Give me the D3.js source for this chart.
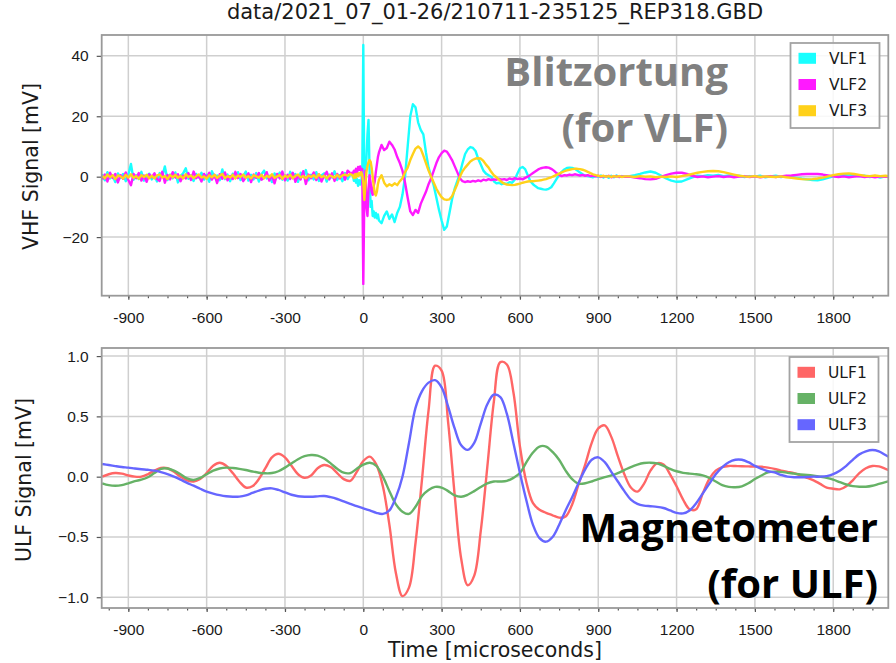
<!DOCTYPE html>
<html>
<head>
<meta charset="utf-8">
<script src="https://cdnjs.cloudflare.com/ajax/libs/d3/7.8.5/d3.min.js"></script>
<style>
	body { margin: 0; background: #fff; }
	svg { display: block; font-family: "DejaVu Sans", sans-serif; }
	.axis text { font-size: 15.5px; fill: #1a1a1a; }
	.axis path { display: none; }
	.axis line { stroke: #555; stroke-width: 1.2; }
	.grid line { stroke: #cfcfcf; stroke-width: 1.5; }
	.frame { fill: none; stroke: #999; stroke-width: 1.8; }
	.label { font-size: 20.5px; fill: #1a1a1a; }
	.title { font-size: 21px; fill: #1a1a1a; }
	.legend text { font-size: 15.5px; fill: #1a1a1a; }
	.note { font-family: "Open Sans", sans-serif; font-weight: 700; font-size: 40px; }
</style>
</head>
<body>
<div id="chart"></div>
<script>

// ---- data ----

const title = "data/2021_07_01-26/210711-235125_REP318.GBD";
const xLabel = "Time [microseconds]";
const xDomain = [-1002, 2011];
const majorTicks = [-900, -600, -300, 0, 300, 600, 900, 1200, 1500, 1800];
const minorTicks = d3.range(-975, 2011, 75);

const vlfTicks = [-20, 0, 20, 40];
const ulfTicks = [-1.0, -0.5, 0.0, 0.5, 1.0];

// VLF sampling: coarse noise before the stroke, fine steps around t=0
const vlfTime = [].concat(
	d3.range(-1000, -40, 10),
	d3.range(-40, 61, 4),
	d3.range(70, 1001, 10),
	d3.range(1020, 2021, 20)
);

const vlf1 = [
	// -1000 .. -50
	0.8, -1.2, 1.5, -0.6, 0.3, -1.8, 1.1, -0.4, 0.9, -1.5,
	0.6, 4.2, -1.0, 0.5, -0.8, 1.6, -1.3, 0.2, 1.0, -0.9,
	0.4, -1.6, 1.2, 0.1, 3.4, -1.1, 0.7, -0.5, 1.4, -1.9,
	0.3, 1.1, 2.8, -0.7, 0.5, -1.4, 0.9, -0.3, 1.3, -1.0,
	0.6, -1.7, 1.8, -0.2, 0.4, -1.2, 2.4, -0.8, 0.7, -1.5,
	1.0, -0.4, 1.5, -1.1, 0.2, 1.7, -1.3, 0.6, -0.9, 1.2,
	-1.6, 0.8, 2.0, -0.6, 0.3, -1.8, 1.1, -0.2, 1.4, -1.0,
	0.5, -1.3, 1.6, -0.5, 0.9, -1.7, 1.3, -0.1, 2.2, -1.2,
	0.6, -0.9, 1.5, -1.4, 0.4, 1.1, -1.6, 0.7, -0.3, 1.8,
	-1.1, 0.5, -1.5, 1.2, -0.8, 0.9,
	// -40 .. 60
	0.6, -1.4, 1.2, -2.0, -0.8, -3.0, -1.2, -2.6, -1.5, 0.8,
	43.6, -4.5, 2.0, 6.0, 14.0, 18.8, 2.0, -10.0, -8.0, -13.0,
	-11.5, -13.5, -12.0, -13.8, -12.5, -14.5,
	// 70 .. 1000
	-15.4, -13.0, -11.5, -14.0, -12.5, -15.0, -12.0, -10.0, -6.0, 0.0,
	10.0, 20.0, 24.0, 23.0, 18.0, 15.5, 14.0, 8.0, 3.0, 0.0,
	-3.0, -7.0, -11.0, -14.5, -17.6, -16.5, -12.0, -7.5, -4.0, -1.5,
	1.0, 4.5, 7.5, 9.0, 9.8, 9.5, 8.5, 6.0, 4.0, 2.0,
	1.0, 0.5, 0.0, -1.5, -2.2, -2.0, -2.5, -2.2, -2.4, -1.8,
	-2.0, -1.0, 1.0, 2.8, 3.2, 2.5, 0.5, -1.5, -2.5, -3.2,
	-3.8, -4.0, -4.2, -4.3, -4.0, -3.5, -2.2, -0.8, 0.5, 1.6,
	2.4, 2.9, 3.0, 2.9, 2.6, 2.0, 1.4, 0.8, 0.4, 0.2,
	0.0, -0.2, 0.3, -0.1, 0.4, -0.3, 0.2, -0.4, 0.3, -0.2,
	0.4, -0.1, 0.2, 0.0,
	// 1020 .. 2020
	0.2, 0.5, 0.9, 1.4, 1.7, 1.3, 0.4, -0.6, -1.3, -1.7,
	-1.6, -0.9, -0.2, 0.3, 0.2, 0.5, 0.3, 0.6, 0.2, 0.4,
	0.1, 0.3, -0.1, 0.2, 0.0, 0.3, -0.2, 0.1, 0.3, -0.1,
	0.2, -0.2, -0.4, -0.7, -0.9, -1.1, -1.2, -0.9, -0.4, 0.1,
	0.3, 0.5, 0.6, 0.4, 0.2, 0.3, -0.1, 0.2, -0.3, 0.1,
	-0.2
];

const vlf2 = [
	-0.9, 0.7, -1.6, 1.3, -0.4, 0.9, -1.9, 0.5, -0.7, 1.4,
	-1.1, -2.8, 0.9, -0.5, 1.2, -1.3, 0.4, -1.7, 0.8, -0.2,
	1.1, -0.8, -1.4, 1.6, -2.0, 0.6, -0.9, 1.5, -0.3, 0.8,
	-1.5, 0.4, -0.6, 1.2, -1.1, 1.7, -0.5, 0.3, -1.6, 0.9,
	-0.4, 1.3, -1.0, 0.6, -2.1, 0.8, -0.7, 1.4, -1.2, 0.2,
	-0.8, 1.6, -0.5, 0.9, -1.5, -0.2, 1.1, -1.8, 0.7, -0.4,
	1.2, -1.0, -0.3, 1.5, -1.3, 0.5, -2.2, 0.9, -0.6, 1.7,
	-1.2, 0.6, -0.8, 1.3, -1.7, 0.4, -0.9, 1.8, -2.4, 0.7,
	-0.5, 1.4, -1.1, 0.8, -1.6, 0.3, 1.6, -0.9, 1.1, -1.4,
	0.9, -0.6, 1.5, -1.0, 2.0, 1.2,
	1.2, 2.0, 0.8, 2.6, 1.5, 3.2, 2.2, 3.4, 1.8, 2.5,
	-35.5, -6.0, 2.0, -10.0, -13.0, -4.0, 0.5, -2.0, -5.0, -6.0,
	-3.0, -1.5, 1.5, 4.0, 6.5, 8.0,
	10.5, 8.8, 9.5, 11.6, 10.5, 9.0, 6.5, 4.5, 2.0, -2.0,
	-7.0, -11.5, -12.7, -11.0, -12.0, -9.0, -7.0, -5.0, -2.5, -0.5,
	2.0, 4.5, 6.5, 7.8, 8.6, 8.3, 7.0, 5.5, 3.5, 1.5,
	-0.5, -1.5, -1.8, -1.5, -1.7, -1.4, -1.6, -1.2, -1.5, -1.0,
	-1.2, -0.8, -1.1, -0.9, -1.0, -0.7, -1.0, -0.8, -1.1, -0.6,
	-0.9, -0.5, -0.8, -0.6, -0.9, -0.4, 0.0, 0.6, 1.2, 1.8,
	2.4, 2.8, 3.0, 3.1, 3.0, 2.6, 2.0, 1.2, 0.6, 0.2,
	0.5, 0.4, 0.7, 0.5, 0.8, 0.6, 0.4, 0.6, 0.3, 0.5,
	0.2, 0.4, 0.1, 0.3, -0.1, 0.2, 0.0, 0.3, -0.2, 0.1,
	0.2, -0.1, 0.1, 0.0,
	0.0, -0.3, -0.5, -0.8, -0.9, -0.7, -0.1, 0.5, 1.0, 1.3,
	1.3, 0.9, 0.3, -0.1, 0.1, -0.2, 0.0, 0.2, -0.1, 0.1,
	-0.2, 0.0, 0.2, -0.1, 0.1, -0.2, 0.0, 0.2, -0.1, 0.1,
	0.3, 0.4, 0.6, 0.8, 0.9, 0.9, 0.9, 0.7, 0.4, 0.1,
	-0.1, 0.1, -0.2, 0.0, 0.2, -0.1, 0.1, -0.2, 0.1, 0.0,
	0.1
];

const vlf3 = [
	0.3, -0.5, 0.7, -0.2, 0.5, -0.8, 0.4, 0.1, -0.6, 0.6,
	-0.3, 0.8, -0.4, 0.2, -0.7, 0.5, -0.1, 0.6, -0.5, 0.3,
	-0.6, 0.4, 0.7, -0.3, 0.2, -0.8, 0.5, -0.2, 0.6, -0.4,
	0.3, -0.6, 0.8, -0.1, 0.4, -0.5, 0.2, 0.7, -0.3, 0.1,
	-0.7, 0.5, -0.2, 0.6, -0.4, 0.3, 0.9, -0.5, 0.2, -0.3,
	0.6, -0.6, 0.4, -0.1, 0.7, -0.4, 0.2, -0.6, 0.5, 0.1,
	-0.3, 0.6, -0.5, 0.3, -0.2, 0.8, -0.4, 0.1, 0.5, -0.7,
	0.4, -0.2, 0.6, -0.5, 0.3, 0.7, -0.3, 0.2, -0.6, 0.4,
	-0.1, 0.5, -0.4, 0.8, -0.2, 0.3, -0.6, 0.4, 0.1, -0.3,
	0.6, -0.2, 0.4, 0.7, 0.3, 0.9,
	0.4, -0.5, 0.8, -0.3, 1.0, 0.2, 1.2, 0.5, 1.5, 0.5,
	-2.0, -7.7, -3.0, 1.5, 3.5, 4.8, 5.5, 5.0, 3.0, 0.0,
	-3.0, -5.5, -6.2, -5.0, -2.5, -1.0,
	0.5, -2.0, -3.2, -2.5, -3.0, -2.2, -2.8, -1.5, -0.5, 1.5,
	3.0, 5.5, 7.5, 9.3, 10.0, 9.2, 7.0, 4.5, 2.0, 0.0,
	-2.0, -4.0, -5.5, -6.8, -7.5, -7.7, -7.5, -6.5, -4.5, -2.5,
	0.0, 1.8, 3.0, 4.0, 5.0, 5.6, 6.0, 6.1, 6.0, 5.2,
	4.0, 3.0, 1.6, 0.5, -0.2, -1.0, -1.8, -2.3, -2.6, -2.7,
	-2.8, -2.7, -2.5, -2.3, -2.0, -1.8, -1.6, -1.5, -1.5, -1.4,
	-1.3, -1.2, -1.0, -0.8, -0.5, -0.2, 0.2, 0.6, 1.0, 1.4,
	1.8, 2.1, 2.3, 2.5, 2.6, 2.6, 2.5, 2.3, 2.0, 1.6,
	1.2, 0.8, 0.5, 0.3, 0.1, 0.3, 0.0, 0.2, -0.1, 0.2,
	0.0, 0.2, -0.1, 0.1,
	0.1, -0.1, 0.2, 0.0, 0.1, -0.2, 0.0, -0.1, 0.1, -0.1,
	0.2, 0.5, 0.9, 1.3, 1.6, 1.8, 1.9, 1.8, 1.5, 1.1,
	0.7, 0.3, 0.1, 0.0, 0.2, -0.1, 0.1, 0.0, -0.1, 0.1,
	-0.2, -0.4, -0.6, -0.8, -0.9, -0.8, -0.6, -0.3, 0.1, 0.5,
	0.8, 1.0, 1.1, 0.9, 0.6, 0.3, 0.2, 0.4, 0.2, 0.3,
	0.1
];

// ULF sampling every 25 microseconds
const ulfTime = d3.range(-1000, 2026, 25);

const ulf1 = [
	0.00, 0.02, 0.03, 0.025, 0.01, 0.0, 0.0, 0.02,
	0.05, 0.072, 0.07, 0.04, 0.0, -0.03, -0.04, -0.02,
	0.03, 0.09, 0.115, 0.09, 0.03, -0.04, -0.09, -0.08,
	-0.02, 0.07, 0.16, 0.19, 0.16, 0.09, 0.02, -0.01,
	0.01, 0.07, 0.097, 0.08, 0.03, -0.02, -0.035, 0.04,
	0.13, 0.166, 0.10, -0.08, -0.40, -0.80, -0.99, -0.92,
	-0.55, -0.02, 0.55, 0.92, 0.88, 0.45, -0.15, -0.68,
	-0.90, -0.82, -0.45, 0.08, 0.62, 0.95, 0.93, 0.70,
	0.25, -0.05, -0.22, -0.275, -0.30, -0.32, -0.34, -0.33,
	-0.23, -0.06, 0.10, 0.28, 0.40, 0.425, 0.33, 0.17,
	0.02, -0.09, -0.124, -0.06, 0.05, 0.11, 0.10, 0.02,
	-0.08, -0.19, -0.27, -0.27, -0.14, -0.02, 0.05, 0.08,
	0.089, 0.088, 0.086, 0.085, 0.084, 0.082, 0.075, 0.065,
	0.05, 0.04, 0.03, 0.01, -0.01, -0.03, -0.06, -0.09,
	-0.10, -0.105, -0.08, -0.03, 0.03, 0.07, 0.089, 0.085,
	0.065, 0.045
];

const ulf2 = [
	-0.055, -0.07, -0.075, -0.07, -0.055, -0.037, -0.025, -0.005,
	0.03, 0.065, 0.068, 0.05, 0.02, -0.015, -0.027, -0.01,
	0.02, 0.05, 0.068, 0.075, 0.072, 0.065, 0.055, 0.043,
	0.033, 0.028, 0.03, 0.045, 0.075, 0.11, 0.145, 0.17,
	0.18, 0.175, 0.15, 0.11, 0.065, 0.033, 0.03, 0.065,
	0.10, 0.115, 0.09, 0.0, -0.12, -0.23, -0.29, -0.309,
	-0.25, -0.16, -0.11, -0.085, -0.09, -0.12, -0.155, -0.166,
	-0.15, -0.12, -0.085, -0.055, -0.04, -0.04, -0.035, -0.01,
	0.03, 0.12, 0.20, 0.25, 0.25, 0.205, 0.14, 0.05,
	-0.02, -0.058, -0.055, -0.04, -0.02, -0.003, 0.01, 0.03,
	0.055, 0.08, 0.10, 0.113, 0.116, 0.11, 0.09, 0.065,
	0.045, 0.032, 0.025, 0.02, 0.01, -0.01, -0.04, -0.07,
	-0.085, -0.088, -0.08, -0.055, -0.02, 0.01, 0.035, 0.042,
	0.04, 0.032, 0.025, 0.018, 0.014, 0.008, 0.0, -0.01,
	-0.025, -0.045, -0.065, -0.078, -0.083, -0.083, -0.075, -0.06,
	-0.045, -0.03
];

const ulf3 = [
	0.105, 0.097, 0.088, 0.08, 0.075, 0.068, 0.062, 0.057,
	0.05, 0.038, 0.022, 0.0, -0.025, -0.052, -0.075, -0.10,
	-0.124, -0.14, -0.153, -0.162, -0.166, -0.165, -0.155, -0.135,
	-0.115, -0.10, -0.097, -0.11, -0.13, -0.15, -0.162, -0.166,
	-0.166, -0.163, -0.16, -0.17, -0.185, -0.205, -0.225, -0.245,
	-0.262, -0.28, -0.30, -0.309, -0.28, -0.17, 0.0, 0.28,
	0.57, 0.71, 0.78, 0.80, 0.74, 0.58, 0.40, 0.26,
	0.222, 0.28, 0.44, 0.60, 0.68, 0.66, 0.52, 0.28,
	0.03, -0.20, -0.40, -0.51, -0.539, -0.50, -0.40, -0.28,
	-0.17, -0.05, 0.06, 0.14, 0.16, 0.12, 0.04, -0.04,
	-0.12, -0.19, -0.225, -0.24, -0.245, -0.25, -0.26, -0.28,
	-0.30, -0.304, -0.28, -0.22, -0.14, -0.06, 0.02, 0.08,
	0.12, 0.14, 0.14, 0.12, 0.09, 0.065, 0.045, 0.035,
	0.015, 0.0, -0.005, -0.005, -0.003, 0.0, 0.0, 0.005,
	0.022, 0.05, 0.09, 0.14, 0.185, 0.21, 0.221, 0.21,
	0.18, 0.15
];


/*
 *  SignalPanel - one subplot (grid, traces, axes, legend, note)
 */
class SignalPanel {

	constructor(svg, config) {
		this.svg = svg;
		this.config = config;

		this.initVis();
	}

	initVis() {
		let vis = this;
		let c = vis.config;

		vis.left = 101.7;
		vis.right = 888.3;

		vis.x = d3.scaleLinear()
			.domain(xDomain)
			.range([vis.left, vis.right]);

		vis.y = d3.scaleLinear()
			.domain(c.yDomain)
			.range([c.bottom, c.top]);

		vis.g = vis.svg.append("g");

		vis.g.append("clipPath")
			.attr("id", c.id + "-clip")
			.append("rect")
			.attr("x", vis.left)
			.attr("y", c.top)
			.attr("width", vis.right - vis.left)
			.attr("height", c.bottom - c.top);

		vis.wrangleData();
	}

	wrangleData() {
		let vis = this;
		let c = vis.config;

		vis.displayData = c.series.map(s => ({
			name: s.name,
			color: s.color,
			points: c.time.map((t, i) => ({ t: t, v: s.values[i] })).filter(d => d.v !== undefined)
		}));

		vis.updateVis();
	}

	updateVis() {
		let vis = this;
		let c = vis.config;

		// grid
		let grid = vis.g.append("g").attr("class", "grid");
		grid.selectAll(".gx")
			.data(majorTicks)
			.enter()
			.append("line")
			.attr("x1", d => vis.x(d))
			.attr("x2", d => vis.x(d))
			.attr("y1", c.top)
			.attr("y2", c.bottom);
		grid.selectAll(".gy")
			.data(c.yTicks)
			.enter()
			.append("line")
			.attr("x1", vis.left)
			.attr("x2", vis.right)
			.attr("y1", d => vis.y(d))
			.attr("y2", d => vis.y(d));

		// traces
		let line = d3.line()
			.x(d => vis.x(d.t))
			.y(d => vis.y(d.v))
			.curve(c.curve);

		vis.g.append("g")
			.attr("clip-path", "url(#" + c.id + "-clip)")
			.selectAll(".trace")
			.data(vis.displayData)
			.enter()
			.append("path")
			.attr("class", "trace")
			.attr("fill", "none")
			.attr("stroke", d => d.color)
			.attr("stroke-width", 2.4)
			.attr("stroke-linejoin", "round")
			.attr("d", d => line(d.points));

		// axes
		let xAxis = d3.axisBottom(vis.x)
			.tickValues(majorTicks)
			.tickFormat(d => String(d))
			.tickSize(4)
			.tickPadding(12);
		let xMinor = d3.axisBottom(vis.x)
			.tickValues(minorTicks)
			.tickFormat("")
			.tickSize(2.5);

		vis.g.append("g")
			.attr("class", "x-axis axis")
			.attr("transform", "translate(0," + c.bottom + ")")
			.call(xMinor);
		vis.g.append("g")
			.attr("class", "x-axis axis")
			.attr("transform", "translate(0," + c.bottom + ")")
			.call(xAxis);

		let yAxis = d3.axisLeft(vis.y)
			.tickValues(c.yTicks)
			.tickFormat(c.yFormat)
			.tickSize(5)
			.tickPadding(8);

		vis.g.append("g")
			.attr("class", "y-axis axis")
			.attr("transform", "translate(" + vis.left + ",0)")
			.call(yAxis);

		vis.g.append("rect")
			.attr("class", "frame")
			.attr("x", vis.left)
			.attr("y", c.top)
			.attr("width", vis.right - vis.left)
			.attr("height", c.bottom - c.top);

		vis.g.append("text")
			.attr("class", "label")
			.attr("text-anchor", "middle")
			.attr("transform", "translate(" + c.yLabelX + "," + c.yLabelY + ") rotate(-90)")
			.text(c.yLabel);

		// legend
		let lg = vis.g.append("g")
			.attr("class", "legend")
			.attr("transform", "translate(" + c.legend[0] + "," + c.legend[1] + ")");
		lg.append("rect")
			.attr("width", 89)
			.attr("height", 85)
			.attr("fill", "#fff")
			.attr("fill-opacity", 0.85)
			.attr("stroke", "#a3a3a3")
			.attr("stroke-width", 1.8);
		let item = lg.selectAll(".item")
			.data(vis.displayData)
			.enter()
			.append("g")
			.attr("transform", (d, i) => "translate(0," + (15.3 + i * 26.2) + ")");
		item.append("rect")
			.attr("x", 8)
			.attr("y", -5.5)
			.attr("width", 17.5)
			.attr("height", 11)
			.attr("fill", d => d.color);
		item.append("text")
			.attr("x", 38.5)
			.attr("dy", "0.36em")
			.text(d => d.name);

		// note
		let note = vis.g.append("text")
			.attr("class", "note")
			.attr("text-anchor", "end")
			.attr("fill", c.note.color);
		c.note.lines.forEach((s, i) => {
			note.append("tspan")
				.attr("x", c.note.x)
				.attr("y", c.note.y + i * 55.5)
				.text(s);
		});
	}
}


let svg = d3.select("#chart").append("svg")
	.attr("width", 896)
	.attr("height", 663);

svg.append("text")
	.attr("class", "title")
	.attr("x", 495)
	.attr("y", 19)
	.attr("text-anchor", "middle")
	.text(title);

new SignalPanel(svg, {
	id: "vlf",
	top: 35,
	bottom: 295.7,
	yDomain: [-39.4, 46.9],
	yTicks: vlfTicks,
	yFormat: d3.format("d"),
	yLabel: "VHF Signal [mV]",
	yLabelX: 38,
	yLabelY: 166.5,
	time: vlfTime,
	curve: d3.curveLinear,
	series: [
		{ name: "VLF1", values: vlf1, color: "#19ffff" },
		{ name: "VLF2", values: vlf2, color: "#ff19ff" },
		{ name: "VLF3", values: vlf3, color: "#ffd11a" }
	],
	legend: [790.5, 43],
	note: { lines: ["Blitzortung", "(for VLF)"], color: "#808080", x: 728, y: 86 }
});

new SignalPanel(svg, {
	id: "ulf",
	top: 348,
	bottom: 608,
	yDomain: [-1.089, 1.067],
	yTicks: ulfTicks,
	yFormat: d3.format(".1f"),
	yLabel: "ULF Signal [mV]",
	yLabelX: 31,
	yLabelY: 480,
	time: ulfTime,
	curve: d3.curveCatmullRom,
	series: [
		{ name: "ULF1", values: ulf1, color: "#ff6666" },
		{ name: "ULF2", values: ulf2, color: "#66b266" },
		{ name: "ULF3", values: ulf3, color: "#6666ff" }
	],
	legend: [789.5, 357],
	note: { lines: ["Magnetometer", "(for ULF)"], color: "#000", x: 878, y: 542 }
});

svg.append("text")
	.attr("class", "label")
	.attr("x", 495)
	.attr("y", 657)
	.attr("text-anchor", "middle")
	.text(xLabel);

</script>
</body>
</html>
